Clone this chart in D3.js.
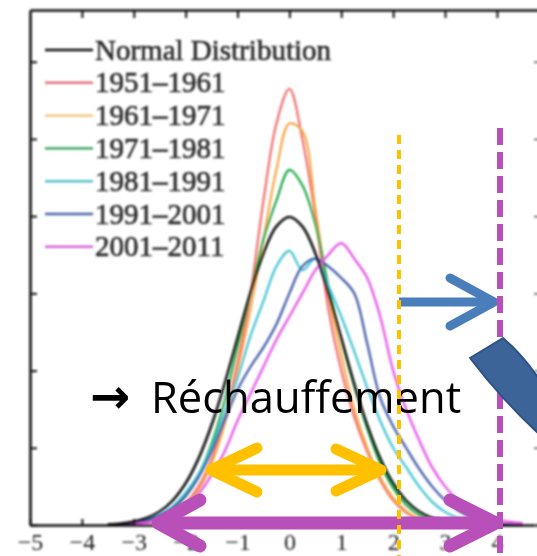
<!DOCTYPE html>
<html>
<head>
<meta charset="utf-8">
<script src="https://cdn.jsdelivr.net/npm/d3@7"></script>
<style>
  html, body { margin: 0; padding: 0; background: #fff; overflow: hidden; }
  svg { display: block; }
</style>
</head>
<body>
<svg id="chart" width="537" height="556"></svg>
<script>
// Standardised temperature anomaly (σ units) at which each frequency is sampled
const anomaly = [-3.5, -3.25, -3, -2.75, -2.5, -2.25, -2, -1.75, -1.5, -1.25, -1, -0.75, -0.5, -0.25,
  0, 0.25, 0.5, 0.75, 1, 1.25, 1.5, 1.75, 2, 2.25, 2.5, 2.75, 3, 3.25, 3.5, 3.75, 4, 4.25, 4.5];

// Frequency of occurrence for each period
const normalDist = [0.0009, 0.002, 0.0044, 0.0091, 0.0175, 0.0317, 0.054, 0.0863, 0.1295, 0.1826, 0.242, 0.3011, 0.3521, 0.3867,
  0.3989, 0.3867, 0.3521, 0.3011, 0.242, 0.1826, 0.1295, 0.0863, 0.054, 0.0317, 0.0175, 0.0091, 0.0044, 0.002, 0.0009, 0.0004, 0.0001, 0, 0];
const p1951 = [0, 0, 0.002, 0.004, 0.008, 0.015, 0.028, 0.05, 0.085, 0.14, 0.21, 0.30, 0.42, 0.52,
  0.565, 0.50, 0.40, 0.28, 0.20, 0.14, 0.095, 0.058, 0.032, 0.016, 0.007, 0.003, 0.001, 0, 0, 0, 0, 0, 0];
const p1961 = [0, 0, 0.001, 0.003, 0.006, 0.012, 0.024, 0.045, 0.08, 0.13, 0.20, 0.28, 0.37, 0.46,
  0.52, 0.51, 0.41, 0.30, 0.22, 0.15, 0.10, 0.062, 0.035, 0.018, 0.008, 0.003, 0.001, 0, 0, 0, 0, 0, 0];
const p1971 = [0, 0.001, 0.002, 0.005, 0.01, 0.02, 0.037, 0.065, 0.105, 0.16, 0.23, 0.30, 0.37, 0.42,
  0.46, 0.44, 0.39, 0.31, 0.24, 0.18, 0.125, 0.08, 0.048, 0.026, 0.013, 0.006, 0.002, 0.001, 0, 0, 0, 0, 0];
const p1981 = [0, 0.001, 0.003, 0.007, 0.013, 0.024, 0.042, 0.066, 0.10, 0.145, 0.19, 0.245, 0.29, 0.335,
  0.355, 0.33, 0.345, 0.31, 0.27, 0.225, 0.178, 0.135, 0.10, 0.075, 0.05, 0.03, 0.017, 0.009, 0.004, 0.002, 0.001, 0, 0];
const p1991 = [0, 0.001, 0.003, 0.006, 0.012, 0.022, 0.038, 0.062, 0.095, 0.135, 0.175, 0.205, 0.23, 0.26,
  0.30, 0.335, 0.345, 0.335, 0.32, 0.30, 0.235, 0.165, 0.128, 0.10, 0.073, 0.05, 0.032, 0.019, 0.01, 0.005, 0.002, 0.001, 0];
const p2001 = [0, 0, 0.001, 0.003, 0.006, 0.012, 0.022, 0.04, 0.065, 0.095, 0.135, 0.17, 0.205, 0.24,
  0.27, 0.30, 0.33, 0.35, 0.365, 0.345, 0.32, 0.27, 0.20, 0.15, 0.11, 0.075, 0.05, 0.032, 0.02, 0.012, 0.007, 0.004, 0.002];

const legendLabels = ["Normal Distribution", "1951\u20131961", "1961\u20131971", "1971\u20131981",
  "1981\u20131991", "1991\u20132001", "2001\u20132011"];
const xTicks = [-5, -4, -3, -2, -1, 0, 1, 2, 3, 4];
const yTicks = [0, 0.1, 0.2, 0.3, 0.4, 0.5, 0.6];

const periods = [
  { label: legendLabels[1], values: p1951, color: "#f26b6b", key: "#e0707c" },
  { label: legendLabels[2], values: p1961, color: "#f5a547", key: "#f0c070" },
  { label: legendLabels[3], values: p1971, color: "#1fa548", key: "#2e9f52" },
  { label: legendLabels[4], values: p1981, color: "#3fc3d3", key: "#55c0c8" },
  { label: legendLabels[5], values: p1991, color: "#3d57a6", key: "#4a64aa" },
  { label: legendLabels[6], values: p2001, color: "#e650e6", key: "#d463d4" }
];

const svg = d3.select("#chart");
const x = d3.scaleLinear().domain([-5, 4.85]).range([30, 541]);
const y = d3.scaleLinear().domain([0, 0.667]).range([525, 10]);

const defs = svg.append("defs");
defs.append("filter").attr("id", "soft")
  .attr("x", "-5%").attr("y", "-5%").attr("width", "110%").attr("height", "110%")
  .append("feGaussianBlur").attr("stdDeviation", 0.9);

// ---- base figure: curves, frame, legend, tick labels ----
const base = svg.append("g").attr("filter", "url(#soft)");

const line = d3.line()
  .x((d, i) => x(anomaly[i]))
  .y(d => y(d))
  .curve(d3.curveCatmullRom.alpha(0.5));

periods.forEach(p => {
  base.append("path").datum(p.values)
    .attr("d", line)
    .attr("fill", "none")
    .attr("stroke", p.color)
    .attr("stroke-width", 2.2)
    .attr("stroke-linejoin", "round");
});
base.append("path").datum(normalDist)
  .attr("d", line)
  .attr("fill", "none")
  .attr("stroke", "#111")
  .attr("stroke-width", 2.6);

// frame and ticks
const frameW = 2.6;
const bottomAxis = base.append("g").attr("transform", `translate(0,${y(0)})`)
  .call(d3.axisBottom(x).tickValues(xTicks).tickSize(-6).tickSizeOuter(0)
    .tickFormat(d => d < 0 ? "\u2212" + Math.abs(d) : String(d)));
bottomAxis.select(".domain").attr("stroke", "#111").attr("stroke-width", frameW);
bottomAxis.selectAll(".tick line").attr("stroke", "#111").attr("stroke-width", 2);
bottomAxis.selectAll(".tick text")
  .attr("y", 25).attr("dy", null)
  .attr("fill", "#222")
  .attr("font-family", "Liberation Serif, serif")
  .attr("font-size", 24);

const topAxis = base.append("g").attr("transform", `translate(0,${y.range()[1]})`)
  .call(d3.axisTop(x).tickValues(xTicks.slice(1)).tickSize(-8).tickSizeOuter(0).tickFormat(""));
topAxis.select(".domain").attr("stroke", "#111").attr("stroke-width", frameW);
topAxis.selectAll(".tick line").attr("stroke", "#111").attr("stroke-width", 2);

const leftAxis = base.append("g").attr("transform", `translate(${x.range()[0]},0)`)
  .call(d3.axisLeft(y).tickValues(yTicks).tickSize(-7).tickSizeOuter(0).tickFormat(""));
leftAxis.select(".domain").attr("stroke", "#111").attr("stroke-width", frameW);
leftAxis.selectAll(".tick line").attr("stroke", "#111").attr("stroke-width", 2);

const rightAxis = base.append("g").attr("transform", `translate(${x.range()[1]},0)`)
  .call(d3.axisRight(y).tickValues(yTicks).tickSize(-7).tickSizeOuter(0).tickFormat(""));
rightAxis.select(".domain").attr("stroke", "#111").attr("stroke-width", frameW);
rightAxis.selectAll(".tick line").attr("stroke", "#555").attr("stroke-width", 1.5);

// legend
const legendKeys = ["#111"].concat(periods.map(p => p.key));
const legend = base.append("g");
legendLabels.forEach((lab, i) => {
  const ly = 50 + i * 32.8;
  legend.append("line")
    .attr("x1", 45).attr("x2", 93).attr("y1", ly).attr("y2", ly)
    .attr("stroke", legendKeys[i]).attr("stroke-width", 2.4);
  legend.append("text")
    .attr("x", 95).attr("y", ly).attr("dy", "0.33em")
    .attr("font-family", "Liberation Serif, serif")
    .attr("font-size", 29)
    .attr("fill", "#2a2a2a")
    .attr("stroke", "#2a2a2a").attr("stroke-width", 0.6)
    .text(lab);
});

// ---- overlay annotations ----
const ann = svg.append("g");

const title = ann.append("text")
  .attr("y", 413)
  .attr("fill", "#000");
title.append("tspan").attr("x", 90).attr("dy", 0)
  .attr("font-family", "DejaVu Sans, sans-serif").attr("font-weight", "bold").attr("font-size", 48)
  .text("\u2192 ");
title.append("tspan").attr("x", 151)
  .attr("font-family", "Open Sans, sans-serif").attr("font-size", 43.5)
  .text("R\u00e9chauffement");

function chevron(g, tipX, tipY, dx, dy, color, w) {
  g.append("path")
    .attr("d", `M${tipX + dx},${tipY - dy}L${tipX},${tipY}L${tipX + dx},${tipY + dy}`)
    .attr("fill", "none").attr("stroke", color).attr("stroke-width", w)
    .attr("stroke-linecap", "round").attr("stroke-linejoin", "round");
}

// orange range arrow (current extremes)
const orange = "#ffc000";
const oy = 470;
ann.append("line").attr("x1", 211).attr("x2", 381).attr("y1", oy).attr("y2", oy)
  .attr("stroke", orange).attr("stroke-width", 11);
chevron(ann, 211, oy, 46, 22, orange, 11);
chevron(ann, 381, oy, -45, 21, orange, 11);

// magenta range arrow (widened extremes)
const violet = "#b94fb9";
const my = 523;
ann.append("line").attr("x1", 158).attr("x2", 496).attr("y1", my).attr("y2", my)
  .attr("stroke", violet).attr("stroke-width", 13);
chevron(ann, 158, my, 42, 23, violet, 13);
chevron(ann, 496, my, -46, 23, violet, 13);

// shift arrow between thresholds
const blue = "#4a7ebb";
const by = 302;
ann.append("line").attr("x1", 399).attr("x2", 494).attr("y1", by).attr("y2", by)
  .attr("stroke", blue).attr("stroke-width", 9);
chevron(ann, 494, by, -44, 24, blue, 9);

// threshold lines
ann.append("line").attr("x1", 399).attr("x2", 399).attr("y1", 135).attr("y2", 556)
  .attr("stroke", orange).attr("stroke-width", 4).attr("stroke-dasharray", "9,6");
ann.append("line").attr("x1", 500).attr("x2", 500).attr("y1", 128).attr("y2", 556)
  .attr("stroke", violet).attr("stroke-width", 6).attr("stroke-dasharray", "17,7");

// tail of the curved arrow entering from the right
ann.append("path")
  .attr("d", "M470,358L503,338Q524,356 541,382L541,436Q502,400 470,358Z")
  .attr("fill", "#3c6499").attr("stroke", "#2d5283").attr("stroke-width", 2)
  .attr("stroke-linejoin", "round");
</script>
</body>
</html>
